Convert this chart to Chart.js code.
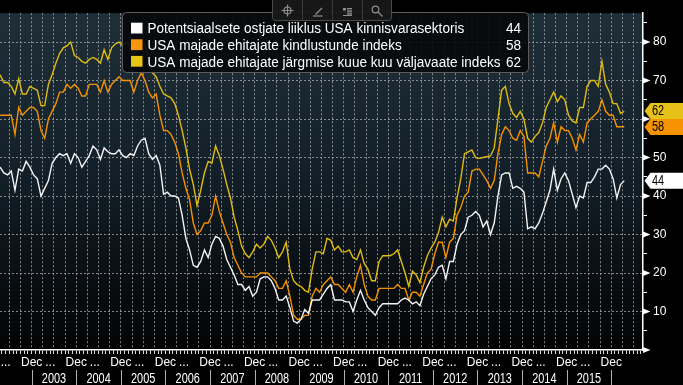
<!DOCTYPE html>
<html><head><meta charset="utf-8">
<script src="https://cdn.jsdelivr.net/npm/chart.js@4.4.1/dist/chart.umd.min.js"></script>
<style>html,body{margin:0;padding:0;background:#000;overflow:hidden}#wrap{width:683px;height:385px;position:relative}canvas{display:block}</style>
</head><body><div id="wrap"><canvas id="c" width="683" height="385"></canvas></div>
<script>
// ---- data (monthly, first observation April 2002, last April 2016) ----
const firstYear = 2002, firstMonth = 4;
const seriesNames = [
  'Potentsiaalsete ostjate liiklus USA kinnisvarasektoris',
  'USA majade ehitajate kindlustunde indeks',
  'USA majade ehitajate järgmise kuue kuu väljavaate indeks'
];
const traffic = [
  47.5,46,45.5,46.5,41.5,47,46.5,49,47.5,
  45.5,44.5,40,42,44,48.5,50,51,50.5,51,48.5,51,
  50,47.5,49,50.5,53,52,49.5,52.5,51.5,51,51,52,
  50.5,50,51,50.5,53,54.5,55,51,49.5,50.5,48,40.5,
  41,40,40,39.5,35,29,26,22,21.5,23,26,24,
  27.5,29.5,29,27,23.5,21.5,19.5,17,17,15.5,16.5,14,
  15,18.5,19,19,18,16,13,13,14,11,7.5,7,
  8,10.5,9.5,13,13,13,14.5,16,17,13,13,13,
  12.5,12.5,10,13,15.5,13,11,10,9,11,12,12,
  12,12,12,13,13.5,13,12,12.5,11.5,14.5,16.5,18.5,
  19.5,21.5,22,18.5,23,23,27.5,30,31,34.5,35,36,
  35,32,33.5,30,33,40,45.5,46,46,42,42.5,42,
  41,31.5,32,31.5,33,35.5,38.5,41.5,47,41.5,44.5,46,
  44,40.5,37,40,39.5,43.5,43.5,45,47,47,48,47,
  44.5,39.5,43,44
];
const confidence = [
  61,61,61,61,56,63,61,62,63,
  63,62,57,55,60,62,64,67,67,69,68,69,
  68,66,66,69,69,69,67,70,67,69,70,71,
  70,70,70,67,70,72,70,67,65.5,66.5,61,57,
  57,56,54,51,46,42,39,33,30,31,33,33,
  35,40,36,33,30,28,24,22,20,19,19,19,
  19,20,20,20,19,18,16,16,18,14,9,8,
  8,9,9,14,16,15,17,18,19,17,17,16,
  15,17,15,19,22,17,14,13,13,16,16,16,
  16,16,17,16,16,13,15,15,14,17,20,21,
  25,28,28,24,28,29,35,37,40,41,46.5,47,
  47,45.5,44,42,44,51,56,58,57,55,54.5,57,
  55.5,46,46,46,45,49,53,55,59,54,58,57,
  57,55,52,56,54,59,60,61,62,65,62,61,
  61,58,58,58
];
const expectations = [
  71.5,69.5,69.5,68.5,66.5,70.5,66.5,66.5,68.5,
  68,67.5,63.5,63.5,69,71.5,74.5,77,78.5,79,80,76.5,
  76,75,74.5,75.5,76,75.5,74.5,78,75.5,78.5,79.5,80,
  79,80,79,77,78,80,79,75,72,71,68.5,66.5,
  66,65.5,64,61,57,52.5,47,43,37.5,41.5,46,49,
  48.5,53,50.5,47,43,39.5,34.5,31,27,25,24,25.5,
  27.5,26.5,27.5,29.5,28.5,26.5,24,25.5,28,21,18,17,
  16.5,15.5,15,21,25.5,25.5,25,29,28.5,26,27,25.5,
  25.5,26,24,23.5,26,22.5,21,18,18,23,24.5,24.5,
  24.5,25,26,23,20,16.5,20.5,19.5,17.5,21.5,24.5,26.5,
  28,30.5,34.5,32,34,33.5,39.5,44.5,51,51.5,52,50,
  49.8,50,50.2,50.4,52.5,60,67.5,68.5,64,61.5,60.4,62,
  60,55,54,55.5,56.5,59,63,65,67,64.5,66,65,
  61,59.5,59,63,63,68.5,70,70,68.5,75,69,67,
  64,64,61.5,62
];
const yearLabels = ['2003','2004','2005','2006','2007','2008','2009','2010','2011','2012','2013','2014','2015'];
const yTickValues = [0,5,10,15,20,25,30,35,40,45,50,55,60,65,70,75,80,85];

// ---- helpers ----
const FONT = '"Liberation Sans",Arial,sans-serif';
const colors = ['#f4f4f4', '#f39200', '#dfbc12'];
const swatch = ['#ffffff', '#f7960f', '#e8c415'];
// month position: months since 1 Jan 2003, at mid-month
function monthPos(i) { return (firstYear - 2003) * 12 + (firstMonth - 1) + i + 0.5; }
function toXY(arr) { return arr.map((v, i) => ({ x: monthPos(i), y: v })); }
const X_MIN = -8.533, X_MAX = 164.55;
const monthTicks = [];
for (let t = Math.ceil(X_MIN); t <= Math.floor(X_MAX); t++) monthTicks.push({ value: t });
const mod = (a, n) => ((a % n) + n) % n;

function narrowText(ctx, text, x, y, sx, align) {
  ctx.save();
  ctx.translate(x, y);
  ctx.scale(sx, 1);
  ctx.textAlign = align;
  ctx.fillText(text, 0, 0);
  ctx.restore();
}

const bgPlugin = {
  id: 'bg',
  beforeDraw(chart) {
    const { ctx, chartArea: a } = chart;
    ctx.save();
    ctx.fillStyle = '#000';
    ctx.fillRect(0, 0, chart.width, chart.height);
    const g = ctx.createLinearGradient(0, a.top, 0, a.bottom);
    g.addColorStop(0, '#1f2f38');
    g.addColorStop(0.45, '#13202a');
    g.addColorStop(1, '#030303');
    ctx.fillStyle = g;
    ctx.fillRect(a.left, a.top, a.right - a.left, a.bottom - a.top);
    ctx.restore();
  }
};

const decoPlugin = {
  id: 'deco',
  afterDraw(chart) {
    const { ctx } = chart;
    const xs = chart.scales.x, ys = chart.scales.y;
    ctx.save();
    // major tick triangles on right axis
    ctx.fillStyle = '#fff';
    for (let v = 0; v <= 80; v += 10) {
      const y = ys.getPixelForValue(v);
      ctx.beginPath();
      ctx.moveTo(xs.right, y - 3);
      ctx.lineTo(xs.right + 7.5, y);
      ctx.lineTo(xs.right, y + 3);
      ctx.closePath();
      ctx.fill();
    }
    // year row
    ctx.strokeStyle = '#b0b0b0';
    ctx.lineWidth = 1;
    for (let k = 0; k <= yearLabels.length; k++) {
      const x = Math.round(xs.getPixelForValue(k * 12)) + 0.5;
      ctx.beginPath(); ctx.moveTo(x, 370); ctx.lineTo(x, 385); ctx.stroke();
    }
    ctx.fillStyle = '#fff';
    ctx.font = '14px ' + FONT;
    ctx.textBaseline = 'alphabetic';
    yearLabels.forEach((lab, k) => {
      narrowText(ctx, lab, xs.getPixelForValue(k * 12 + 6), 382.5, 0.78, 'center');
    });
    // last-value tags
    const series = [traffic, confidence, expectations];
    const tagBg = ['#ffffff', '#f59300', '#e6c117'];
    const tags = series.map((s, i) => ({ v: s[s.length - 1], bg: tagBg[i], y: ys.getPixelForValue(s[s.length - 1]) }));
    tags.sort((a, b) => a.y - b.y);
    for (let i = 1; i < tags.length; i++) {
      const d = tags[i].y - tags[i - 1].y;
      if (d < 16) { const s = (16 - d) / 2; tags[i - 1].y -= s; tags[i].y += s; }
    }
    ctx.textBaseline = 'middle';
    ctx.font = '14px ' + FONT;
    tags.forEach(t => {
      const x0 = xs.right + 1.5;
      ctx.fillStyle = t.bg;
      ctx.beginPath();
      ctx.moveTo(x0, t.y);
      ctx.lineTo(x0 + 6, t.y - 8);
      ctx.lineTo(chart.width, t.y - 8);
      ctx.lineTo(chart.width, t.y + 8);
      ctx.lineTo(x0 + 6, t.y + 8);
      ctx.closePath();
      ctx.fill();
      ctx.fillStyle = '#000';
      narrowText(ctx, String(t.v), 652, t.y + 0.5, 0.78, 'left');
    });
    // legend box
    ctx.fillStyle = 'rgba(6,9,11,0.92)';
    ctx.strokeStyle = '#5c5c5c';
    ctx.lineWidth = 1;
    ctx.beginPath();
    ctx.roundRect(122.5, 12.5, 406, 60, 4);
    ctx.fill(); ctx.stroke();
    ctx.textBaseline = 'alphabetic';
    ctx.font = '14px ' + FONT;
    const sc = 353 / ctx.measureText(seriesNames[2]).width;
    const lastVals = [traffic, confidence, expectations].map(s => s[s.length - 1]);
    seriesNames.forEach((name, i) => {
      const base = 33.3 + 16.6 * i;
      ctx.fillStyle = swatch[i];
      ctx.fillRect(131, base - 10.6, 11.5, 10.8);
      ctx.fillStyle = '#fff';
      narrowText(ctx, name, 147.5, base, sc, 'left');
      narrowText(ctx, String(lastVals[i]), 521, base, sc, 'right');
    });
    // toolbar
    ctx.fillStyle = 'rgba(24,24,24,0.95)';
    ctx.strokeStyle = '#4a4a4a';
    ctx.beginPath();
    ctx.roundRect(272.5, -3, 119, 23.5, 3);
    ctx.fill(); ctx.stroke();
    ctx.strokeStyle = '#3a3a3a';
    [302.5, 332.5, 362.5].forEach(x => { ctx.beginPath(); ctx.moveTo(x, 0); ctx.lineTo(x, 20); ctx.stroke(); });
    ctx.strokeStyle = '#8e8e8e';
    ctx.fillStyle = '#8e8e8e';
    ctx.lineWidth = 1.2;
    ctx.beginPath(); ctx.arc(287.5, 10.5, 3.5, 0, Math.PI * 2); ctx.stroke();
    ctx.beginPath(); ctx.moveTo(281.5, 10.5); ctx.lineTo(293.5, 10.5); ctx.moveTo(287.5, 4.5); ctx.lineTo(287.5, 16.5); ctx.stroke();
    ctx.beginPath(); ctx.moveTo(315.5, 14.5); ctx.lineTo(322, 8); ctx.stroke();
    ctx.beginPath(); ctx.moveTo(313, 16); ctx.lineTo(322.5, 16); ctx.stroke();
    ctx.lineWidth = 1;
    ctx.fillRect(343, 8, 3, 2.5);
    for (let k = 0; k < 5; k++) { ctx.beginPath(); ctx.moveTo(347, 8.5 + k * 1.6); ctx.lineTo(352, 8.5 + k * 1.6); ctx.stroke(); }
    ctx.beginPath(); ctx.moveTo(343, 15.5); ctx.lineTo(352, 15.5); ctx.stroke();
    ctx.lineWidth = 1.2;
    ctx.beginPath(); ctx.arc(375.5, 9.5, 3.3, 0, Math.PI * 2); ctx.stroke();
    ctx.beginPath(); ctx.moveTo(378, 12); ctx.lineTo(382.5, 16.5); ctx.stroke();
    ctx.restore();
  }
};

const mk = (label, arr, i) => ({
  label, data: toXY(arr), borderColor: colors[i], backgroundColor: colors[i],
  borderWidth: 1.4, pointRadius: 0, tension: 0, fill: false
});

new Chart(document.getElementById('c'), {
  type: 'line',
  data: { datasets: [mk(seriesNames[0], traffic, 0), mk(seriesNames[1], confidence, 1), mk(seriesNames[2], expectations, 2)] },
  options: {
    responsive: false, animation: false, devicePixelRatio: 1,
    layout: { padding: 0 },
    plugins: { legend: { display: false }, tooltip: { enabled: false } },
    scales: {
      x: {
        type: 'linear', position: 'bottom', min: X_MIN, max: X_MAX,
        afterBuildTicks: s => { s.ticks = monthTicks.map(t => ({ value: t.value })); },
        afterFit: s => { s.height = 35; },
        ticks: {
          autoSkip: false, maxRotation: 0, minRotation: 0, padding: 1,
          color: '#ffffff', font: { family: FONT, size: 12 },
          callback: v => {
            if (mod(v, 12) === 0) return 'Dec';
            if (mod(v, 12) === 5 && v < 156) return '...';
            return '';
          }
        },
        grid: {
          color: c => (c.tick && mod(c.tick.value, 3) === 0) ? 'rgba(165,165,165,0.8)' : 'rgba(0,0,0,0)',
          lineWidth: 1, drawTicks: true, tickLength: 4, tickColor: '#d8d8d8', tickWidth: 1
        },
        border: { display: true, color: '#ffffff', width: 1.5, dash: [2, 2] }
      },
      y: {
        type: 'linear', position: 'right', min: 0, max: 87.5,
        afterBuildTicks: s => { s.ticks = yTickValues.map(v => ({ value: v })); },
        afterFit: s => { s.width = 40; },
        ticks: {
          autoSkip: false, padding: 6, color: '#ffffff', font: { family: FONT, size: 12 },
          callback: v => (v % 10 === 0 && v > 0 && v <= 80) ? String(v) : ''
        },
        grid: {
          color: c => (c.tick && c.tick.value % 10 === 0 && c.tick.value > 0 && c.tick.value <= 80) ? 'rgba(165,165,165,0.8)' : 'rgba(0,0,0,0)',
          lineWidth: 1, drawTicks: true, tickLength: 4, tickColor: '#ffffff', tickWidth: 1
        },
        border: { display: true, color: '#ffffff', width: 1.5, dash: [2, 2] }
      }
    }
  },
  plugins: [bgPlugin, decoPlugin]
});
</script>
</body></html>
